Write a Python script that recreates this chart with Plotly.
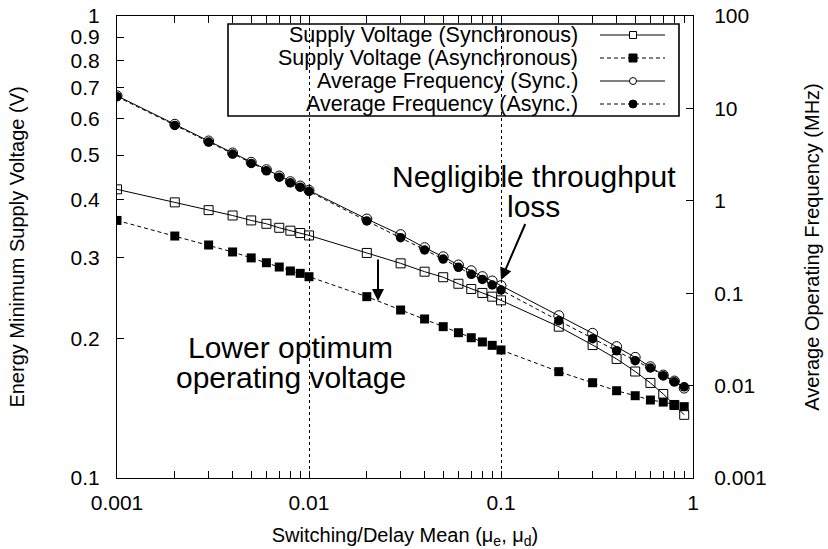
import plotly.graph_objects as go

# ---------------- data ----------------
mu = [0.001, 0.002, 0.003, 0.004, 0.005, 0.006, 0.007, 0.008, 0.009,
      0.01, 0.02, 0.03, 0.04, 0.05, 0.06, 0.07, 0.08, 0.09,
      0.1, 0.2, 0.3, 0.4, 0.5, 0.6, 0.7, 0.8, 0.9]

v_sync = [0.4215, 0.395, 0.380, 0.370, 0.361, 0.355, 0.348, 0.343, 0.339,
          0.335, 0.307, 0.2915, 0.2796, 0.272, 0.2633, 0.2565, 0.2515, 0.2469,
          0.2424, 0.2126, 0.194, 0.181, 0.170, 0.1606, 0.152, 0.1439, 0.137]

v_async = [0.361, 0.334, 0.3194, 0.3085, 0.2995, 0.2924, 0.2862, 0.2806, 0.2773,
           0.2727, 0.2469, 0.2310, 0.2209, 0.2126, 0.2063, 0.2012, 0.197, 0.1937,
           0.1893, 0.1699, 0.1608, 0.1545, 0.1507, 0.1475, 0.146, 0.144, 0.1427]

f_sync = [13.7, 6.73, 4.44, 3.29, 2.61, 2.17, 1.855, 1.61, 1.446,
          1.30, 0.635, 0.43, 0.311, 0.248, 0.202, 0.175, 0.151, 0.1355,
          0.1206, 0.0571, 0.0368, 0.0264, 0.0202, 0.016, 0.013, 0.0112, 0.0094]

f_async = [13.4, 6.55, 4.32, 3.2, 2.54, 2.11, 1.80, 1.565, 1.405,
           1.265, 0.605, 0.399, 0.2935, 0.234, 0.1906, 0.160, 0.141, 0.1227,
           0.1083, 0.0504, 0.0322, 0.0239, 0.0186, 0.0155, 0.0128, 0.0110, 0.0097]

series_names = ["Supply Voltage (Synchronous)", "Supply Voltage (Asynchronous)",
                "Average Frequency (Sync.)", "Average Frequency (Async.)"]

x_ticks = [0.001, 0.01, 0.1, 1]
x_ticktext = ["0.001", "0.01", "0.1", "1"]
x_minor = [k * d for d in (0.001, 0.01, 0.1) for k in range(2, 10)]
y_ticks = [0.1, 0.2, 0.3, 0.4, 0.5, 0.6, 0.7, 0.8, 0.9, 1]
y_ticktext = ["0.1", "0.2", "0.3", "0.4", "0.5", "0.6", "0.7", "0.8", "0.9", "1"]
y2_ticks = [0.001, 0.01, 0.1, 1, 10, 100]
y2_ticktext = ["0.001", "0.01", "0.1", "1", "10", "100"]

FONT = "Liberation Sans, Arial, Helvetica, sans-serif"
DASH = "4px,3px"

fig = go.Figure()
fig.add_trace(go.Scatter(x=mu, y=v_sync, name=series_names[0], mode="lines+markers",
                         line=dict(color="black", width=1),
                         marker=dict(symbol="square-open", size=9, color="black",
                                     line=dict(width=1, color="black")),
                         showlegend=False))
fig.add_trace(go.Scatter(x=mu, y=v_async, name=series_names[1], mode="lines+markers",
                         line=dict(color="black", width=1, dash=DASH),
                         marker=dict(symbol="square", size=9, color="black"),
                         showlegend=False))
fig.add_trace(go.Scatter(x=mu, y=f_sync, name=series_names[2], mode="lines+markers",
                         yaxis="y2",
                         line=dict(color="black", width=1),
                         marker=dict(symbol="circle-open", size=10, color="black",
                                     line=dict(width=1, color="black")),
                         showlegend=False))
fig.add_trace(go.Scatter(x=mu, y=f_async, name=series_names[3], mode="lines+markers",
                         yaxis="y2",
                         line=dict(color="black", width=1, dash=DASH),
                         marker=dict(symbol="circle", size=9.5, color="black"),
                         showlegend=False))

# ---------------- custom legend (gnuplot style: text right, sample left) --------
L, R, T, B = 117, 693, 16, 478


def px(xp):
    return (xp - L) / (R - L)


def py(yp):
    return (B - yp) / (B - T)


shapes = []
annotations = []
shapes.append(dict(type="rect", xref="paper", yref="paper",
                   x0=px(228), x1=px(679), y0=py(116), y1=py(24),
                   line=dict(color="black", width=1.6), fillcolor="rgba(0,0,0,0)"))
rows = [35, 58, 81, 104]
styles = [("solid", "square", False), (DASH, "square", True),
          ("solid", "circle", False), (DASH, "circle", True)]
for name, ry, (dash, sym, filled) in zip(series_names, rows, styles):
    annotations.append(dict(text=name, xref="paper", yref="paper", x=px(580), y=py(ry),
                            xanchor="right", yanchor="middle", showarrow=False,
                            font=dict(size=21.5, color="black", family=FONT)))
    shapes.append(dict(type="line", xref="paper", yref="paper",
                       x0=px(600), x1=px(665), y0=py(ry), y1=py(ry),
                       line=dict(color="black", width=1, dash=dash)))
    s = 4 if filled else 3.5
    shapes.append(dict(type="rect" if sym == "square" else "circle",
                       xref="paper", yref="paper",
                       xsizemode="pixel", ysizemode="pixel",
                       xanchor=px(633), yanchor=py(ry),
                       x0=-s, x1=s, y0=-s, y1=s,
                       line=dict(color="black", width=1),
                       fillcolor="black" if filled else "white"))

# ---------------- callouts ----------------
ann_font = dict(size=30, color="black", family=FONT)
annotations += [
    dict(text="Negligible throughput", xref="paper", yref="paper", x=px(534), y=py(176),
         xanchor="center", yanchor="middle", showarrow=False, font=ann_font),
    # "loss" carries the arrow pointing at the curves near mu = 0.1
    dict(text="loss", xref="paper", yref="paper", x=px(501), y=py(280),
         ax=533 - 501, ay=206 - 280, axref="pixel", ayref="pixel",
         xanchor="center", yanchor="middle", font=ann_font,
         showarrow=True, arrowhead=2, arrowsize=1.2, arrowwidth=2, arrowcolor="black"),
    dict(text="Lower optimum", xref="paper", yref="paper", x=px(290), y=py(347),
         xanchor="center", yanchor="middle", showarrow=False, font=ann_font),
    dict(text="operating voltage", xref="paper", yref="paper", x=px(291), y=py(377),
         xanchor="center", yanchor="middle", showarrow=False, font=ann_font),
    dict(text="", xref="paper", yref="paper", x=px(378), y=py(301),
         ax=0, ay=258 - 301, axref="pixel", ayref="pixel",
         showarrow=True, arrowhead=2, arrowsize=1.2, arrowwidth=2, arrowcolor="black"),
]

tick_font = dict(size=21, color="black", family=FONT)
title_font = dict(size=20, color="black", family=FONT)

fig.update_layout(
    width=828, height=549,
    margin=dict(l=L, r=828 - R, t=T, b=549 - B, autoexpand=False),
    paper_bgcolor="white", plot_bgcolor="white",
    font=dict(family=FONT, color="black"),
    shapes=shapes, annotations=annotations,
    xaxis=dict(type="log", range=[-3, 0], tickmode="array", tickvals=x_ticks,
               ticktext=x_ticktext, ticks="inside", ticklen=7, tickwidth=1,
               tickcolor="black", showline=True, linecolor="black", linewidth=1,
               mirror="allticks", showgrid=True, gridcolor="black", gridwidth=1,
               griddash="dot", zeroline=False, tickfont=tick_font,
               ticklabelstandoff=6,
               minor=dict(tickmode="array", tickvals=x_minor, ticks="inside",
                          ticklen=4, tickcolor="black", tickwidth=1, showgrid=False),
               title=dict(text="Switching/Delay Mean (μ<sub>e</sub>, μ<sub>d</sub>)",
                          font=title_font, standoff=16)),
    yaxis=dict(type="log", range=[-1, 0], tickmode="array", tickvals=y_ticks,
               ticktext=y_ticktext, ticks="inside", ticklen=7, tickwidth=1,
               tickcolor="black", showline=True, linecolor="black", linewidth=1,
               showgrid=False, zeroline=False, tickfont=tick_font,
               ticklabelstandoff=12,
               title=dict(text="Energy Minimum Supply Voltage (V)", font=title_font,
                          standoff=40)),
    yaxis2=dict(type="log", range=[-3, 2], overlaying="y", side="right",
                tickmode="array", tickvals=y2_ticks, ticktext=y2_ticktext,
                ticks="inside", ticklen=7, tickwidth=1, tickcolor="black",
                showline=True, linecolor="black", linewidth=1, showgrid=False,
                zeroline=False, tickfont=tick_font, ticklabelstandoff=16,
                title=dict(text="Average Operating Frequency (MHz)", font=title_font,
                           standoff=39)),
)

fig.write_html("out.html")
